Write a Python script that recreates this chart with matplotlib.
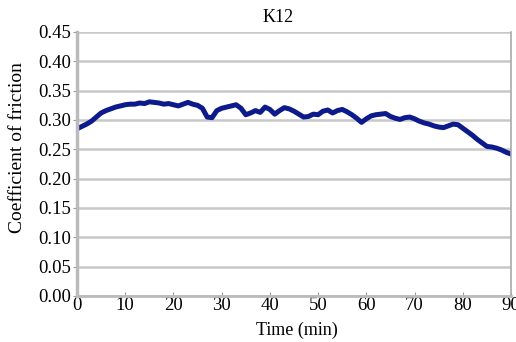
import matplotlib.pyplot as plt

# Friction coefficient vs time, sample K12 (1 per minute)
time_min = list(range(0, 91))
cof = [
    0.285, 0.289, 0.293, 0.298, 0.305, 0.312, 0.316, 0.319, 0.322, 0.324,
    0.326, 0.327, 0.327, 0.329, 0.328, 0.331, 0.330, 0.329, 0.327, 0.328,
    0.326, 0.324, 0.327, 0.330, 0.327, 0.325, 0.320, 0.305, 0.304, 0.316,
    0.320, 0.322, 0.324, 0.326, 0.320, 0.309, 0.312, 0.316, 0.313, 0.322,
    0.318, 0.310, 0.316, 0.321, 0.319, 0.315, 0.310, 0.305, 0.306, 0.310,
    0.309, 0.315, 0.317, 0.312, 0.316, 0.318, 0.314, 0.309, 0.303, 0.296,
    0.302, 0.307, 0.309, 0.310, 0.311, 0.306, 0.303, 0.301, 0.304, 0.305,
    0.302, 0.298, 0.295, 0.293, 0.290, 0.288, 0.287, 0.290, 0.293, 0.292,
    0.286, 0.280, 0.274, 0.267, 0.261, 0.255, 0.254, 0.252, 0.249, 0.245,
    0.242,
]
x_ticks = [0, 10, 20, 30, 40, 50, 60, 70, 80, 90]
y_ticks = [0.00, 0.05, 0.10, 0.15, 0.20, 0.25, 0.30, 0.35, 0.40, 0.45]

plt.rcParams["font.family"] = ["Liberation Serif", "DejaVu Serif"]

fig = plt.figure(figsize=(5.16, 3.42), dpi=100)
ax = fig.add_axes([77 / 516, 46 / 342, 434 / 516, 264 / 342])

ax.plot(time_min, cof, color="#0d1a8c", linewidth=3.6, solid_joinstyle="round")

ax.set_xlim(0, 90)
ax.set_ylim(0, 0.45)
ax.set_xticks(x_ticks)
ax.set_yticks(y_ticks)
ax.set_yticklabels([f"{v:.2f}" for v in y_ticks])
ax.tick_params(axis="both", labelsize=13.5, colors="#999999", labelcolor="black")
ax.tick_params(axis="x", direction="in", length=3, pad=1)
ax.tick_params(axis="y", direction="out", length=3, pad=1)

ax.grid(axis="y", color="#c8c8c8", linewidth=1.8)
ax.set_axisbelow(True)
ax.spines["top"].set_visible(False)
ax.spines["left"].set_color("#bbbbbb")
ax.spines["left"].set_linewidth(2.5)
ax.spines["bottom"].set_color("#bbbbbb")
ax.spines["bottom"].set_linewidth(2.0)
ax.spines["right"].set_color("#aaaaaa")
ax.spines["right"].set_linewidth(1.2)

fig.text(278 / 516, 1 - 17 / 342, "K12", ha="center", va="center", fontsize=13)
fig.text(297 / 516, 1 - 330 / 342, "Time (min)", ha="center", va="center", fontsize=13)
fig.text(18 / 516, 1 - 148 / 342, "Coefficient of friction", ha="center", va="center",
         rotation=90, fontsize=14)

fig.savefig("out.png", dpi=100)
